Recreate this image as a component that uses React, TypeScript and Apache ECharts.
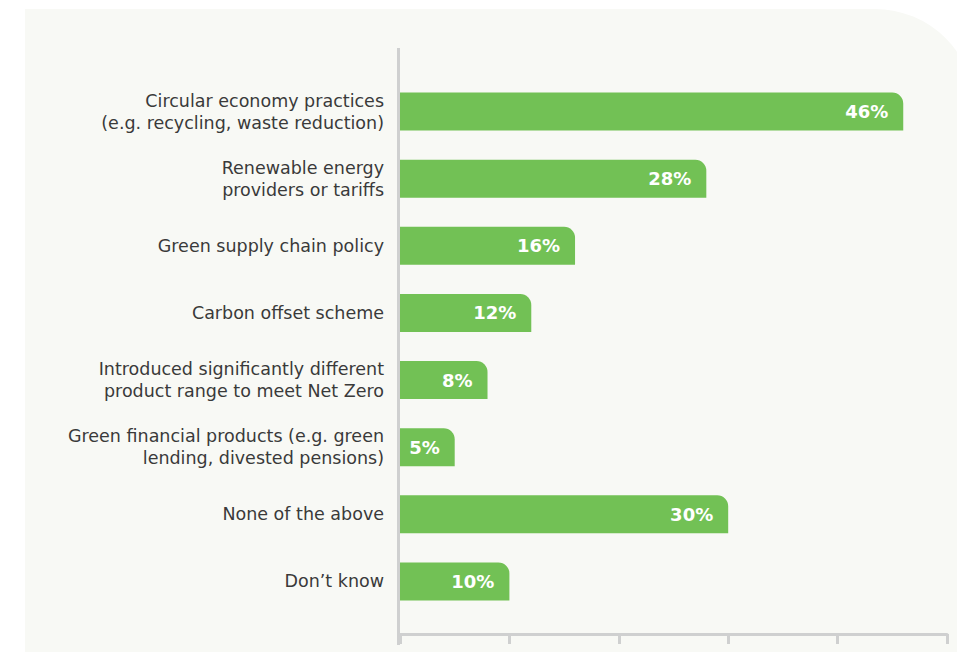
import React, { useEffect, useRef } from "react";
import * as echarts from "echarts";

const categories = [
  "Circular economy practices\n(e.g. recycling, waste reduction)",
  "Renewable energy\nproviders or tariffs",
  "Green supply chain policy",
  "Carbon offset scheme",
  "Introduced significantly different\nproduct range to meet Net Zero",
  "Green financial products (e.g. green\nlending, divested pensions)",
  "None of the above",
  "Don\u2019t know",
];
const values = [46, 28, 16, 12, 8, 5, 30, 10];
const xTicks = [0, 10, 20, 30, 40, 50];

export default function App() {
  const ref = useRef<HTMLDivElement>(null);
  useEffect(() => {
    if (!ref.current) return;
    const chart = echarts.init(ref.current, null, { renderer: "svg" });
    chart.setOption({
      animation: false,
      backgroundColor: "#ffffff",
      graphic: [
        {
          type: "rect",
          z: -10,
          shape: { x: 25, y: 9, width: 950, height: 700, r: [0, 100, 0, 0] },
          style: { fill: "#f8f9f5" },
        },
        {
          type: "line",
          z: 10,
          shape: { x1: 398.5, y1: 48, x2: 398.5, y2: 645 },
          style: { stroke: "#cfd0d0", lineWidth: 3 },
        },
      ],
      grid: { left: 400, right: 10, top: 78, height: 537, containLabel: false },
      xAxis: {
        type: "value",
        min: xTicks[0],
        max: xTicks[xTicks.length - 1],
        interval: 10,
        offset: 19,
        axisLine: { show: true, lineStyle: { color: "#cfd0d0", width: 3 } },
        axisTick: { show: true, length: 10, lineStyle: { color: "#cfd0d0", width: 3 } },
        axisLabel: { show: false },
        splitLine: { show: false },
      },
      yAxis: {
        type: "category",
        inverse: true,
        data: categories,
        axisLine: { show: false },
        axisTick: { show: false },
        axisLabel: {
          margin: 16,
          color: "#3a3a3a",
          fontSize: 17.5,
          lineHeight: 22,
          fontFamily: "DejaVu Sans",
          align: "right",
        },
      },
      series: [
        {
          type: "bar",
          data: values,
          barWidth: 38,
          itemStyle: { color: "#72c155", borderRadius: [0, 11, 0, 0] },
          label: {
            show: true,
            position: "insideRight",
            distance: 15,
            formatter: "{c}%",
            color: "#ffffff",
            fontWeight: "bold",
            fontSize: 18,
            fontFamily: "DejaVu Sans",
          },
        },
      ],
    });
    return () => chart.dispose();
  }, []);
  return <div ref={ref} style={{ width: 957, height: 652, position: "absolute", left: 0, top: 0 }} />;
}
